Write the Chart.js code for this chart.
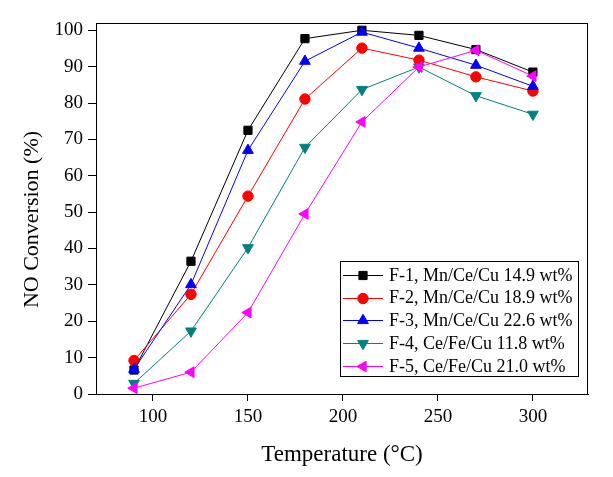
<!DOCTYPE html>
<html>
<head>
<meta charset="utf-8">
<script src="https://cdn.jsdelivr.net/npm/chart.js@4.4.1/dist/chart.umd.min.js"></script>
<style>
html,body{margin:0;padding:0;background:#fff;}
#wrap{width:613px;height:477px;position:relative;}
</style>
</head>
<body>
<div id="wrap"><canvas id="c" width="613" height="477"></canvas></div>
<script>
const temperatures = [90, 120, 150, 180, 210, 240, 270, 300];
const seriesNames = [
  'F-1, Mn/Ce/Cu 14.9 wt%',
  'F-2, Mn/Ce/Cu 18.9 wt%',
  'F-3, Mn/Ce/Cu 22.6 wt%',
  'F-4, Ce/Fe/Cu 11.8 wt%',
  'F-5, Ce/Fe/Cu 21.0 wt%'
];
const f1 = [6.6, 36.5, 72.5, 97.7, 100.0, 98.6, 94.7, 88.5];
const f2 = [9.2, 27.4, 54.4, 81.1, 95.1, 91.8, 87.2, 83.3];
const f3 = [6.8, 30.1, 67.0, 91.5, 99.5, 95.1, 90.4, 84.6];
const f4 = [2.9, 17.3, 40.2, 67.8, 83.7, 89.9, 82.0, 76.9];
const f5 = [1.6, 6.0, 22.4, 49.5, 74.8, 89.9, 94.5, 87.4];
const xTicks = [100, 150, 200, 250, 300];
const yTicks = [0, 10, 20, 30, 40, 50, 60, 70, 80, 90, 100];

const FONT = "'Liberation Serif', 'Times New Roman', serif";
const colors = ['#000000', '#ff0000', '#0000ff', '#008080', '#ff00ff'];
const styles = [
  {pointStyle: 'rect', rotation: 0, radius: 5.8},
  {pointStyle: 'circle', rotation: 0, radius: 5.2},
  {pointStyle: 'triangle', rotation: 0, radius: 6.2},
  {pointStyle: 'triangle', rotation: 180, radius: 6.2},
  {pointStyle: 'triangle', rotation: 270, radius: 6.2}
];
const allSeries = [f1, f2, f3, f4, f5];

const datasets = allSeries.map((vals, i) => ({
  label: seriesNames[i],
  data: temperatures.map((t, j) => ({x: t, y: vals[j]})),
  borderColor: colors[i],
  backgroundColor: colors[i],
  pointBackgroundColor: colors[i],
  pointBorderColor: colors[i],
  borderWidth: 1,
  pointBorderWidth: 1,
  pointStyle: styles[i].pointStyle,
  pointRotation: styles[i].rotation,
  pointRadius: styles[i].radius,
  pointHoverRadius: styles[i].radius,
  tension: 0,
  fill: false,
  order: 5 - i
}));

const framePlugin = {
  id: 'frame',
  afterDraw(chart) {
    const {ctx, chartArea: a} = chart;
    ctx.save();
    ctx.strokeStyle = '#000';
    ctx.lineWidth = 1;
    ctx.beginPath();
    ctx.moveTo(a.left, a.top + 0.5);
    ctx.lineTo(a.right, a.top + 0.5);
    ctx.moveTo(a.right - 0.5, a.top);
    ctx.lineTo(a.right - 0.5, a.bottom);
    ctx.stroke();
    ctx.restore();
  }
};

function drawMarker(ctx, st, color, x, y) {
  ctx.save();
  ctx.fillStyle = color;
  ctx.strokeStyle = color;
  ctx.lineWidth = 1;
  if (Chart.helpers && Chart.helpers.drawPoint) {
    Chart.helpers.drawPoint(ctx, {pointStyle: st.pointStyle, rotation: st.rotation, radius: st.radius, borderWidth: 1}, x, y);
  }
  ctx.restore();
}

const legendPlugin = {
  id: 'boxLegend',
  afterDraw(chart) {
    const ctx = chart.ctx;
    const bx = 340, by = 261, bw = 238, bh = 115;
    ctx.save();
    ctx.fillStyle = '#fff';
    ctx.fillRect(bx, by, bw, bh);
    ctx.strokeStyle = '#000';
    ctx.lineWidth = 1;
    ctx.strokeRect(bx + 0.5, by + 0.5, bw, bh);
    ctx.font = '18px ' + FONT;
    ctx.textBaseline = 'middle';
    ctx.textAlign = 'left';
    chart.data.datasets.forEach((ds, i) => {
      const y = 275 + i * 22.7;
      ctx.strokeStyle = colors[i];
      ctx.lineWidth = 1;
      ctx.beginPath();
      ctx.moveTo(343, Math.round(y) + 0.5);
      ctx.lineTo(383, Math.round(y) + 0.5);
      ctx.stroke();
      drawMarker(ctx, styles[i], colors[i], 363, Math.round(y) + 0.5);
      ctx.fillStyle = '#000';
      ctx.fillText(ds.label, 389, y + 1);
    });
    ctx.restore();
  }
};

new Chart(document.getElementById('c'), {
  type: 'line',
  data: {datasets},
  plugins: [framePlugin, legendPlugin],
  options: {
    responsive: false,
    animation: false,
    events: [],
    layout: {padding: {left: 0, top: 23, right: 25, bottom: 0}},
    plugins: {legend: {display: false}, tooltip: {enabled: false}, title: {display: false}},
    scales: {
      x: {
        type: 'linear',
        min: 70,
        max: 329,
        afterFit(s) { s.height = 83; },
        afterBuildTicks(s) { s.ticks = xTicks.map(v => ({value: v})); },
        grid: {display: true, drawOnChartArea: false, drawTicks: true, tickLength: 7, color: '#000', lineWidth: 1},
        border: {display: true, color: '#000', width: 1},
        ticks: {color: '#000', padding: 5, maxRotation: 0, font: {family: FONT, size: 19}},
        title: {display: true, text: 'Temperature (°C)', color: '#000', font: {family: FONT, size: 23}, padding: {top: 0, bottom: 8}}
      },
      y: {
        type: 'linear',
        min: 0,
        max: 102,
        afterFit(s) { s.width = 96; },
        afterBuildTicks(s) { s.ticks = yTicks.map(v => ({value: v})); },
        grid: {display: true, drawOnChartArea: false, drawTicks: true, tickLength: 8, color: '#000', lineWidth: 1},
        border: {display: true, color: '#000', width: 1},
        ticks: {color: '#000', padding: 5, font: {family: FONT, size: 19}},
        title: {display: true, text: 'NO Conversion (%)    ', color: '#000', font: {family: FONT, size: 22}, padding: {top: 19, bottom: 0}}
      }
    }
  }
});
</script>
</body>
</html>
